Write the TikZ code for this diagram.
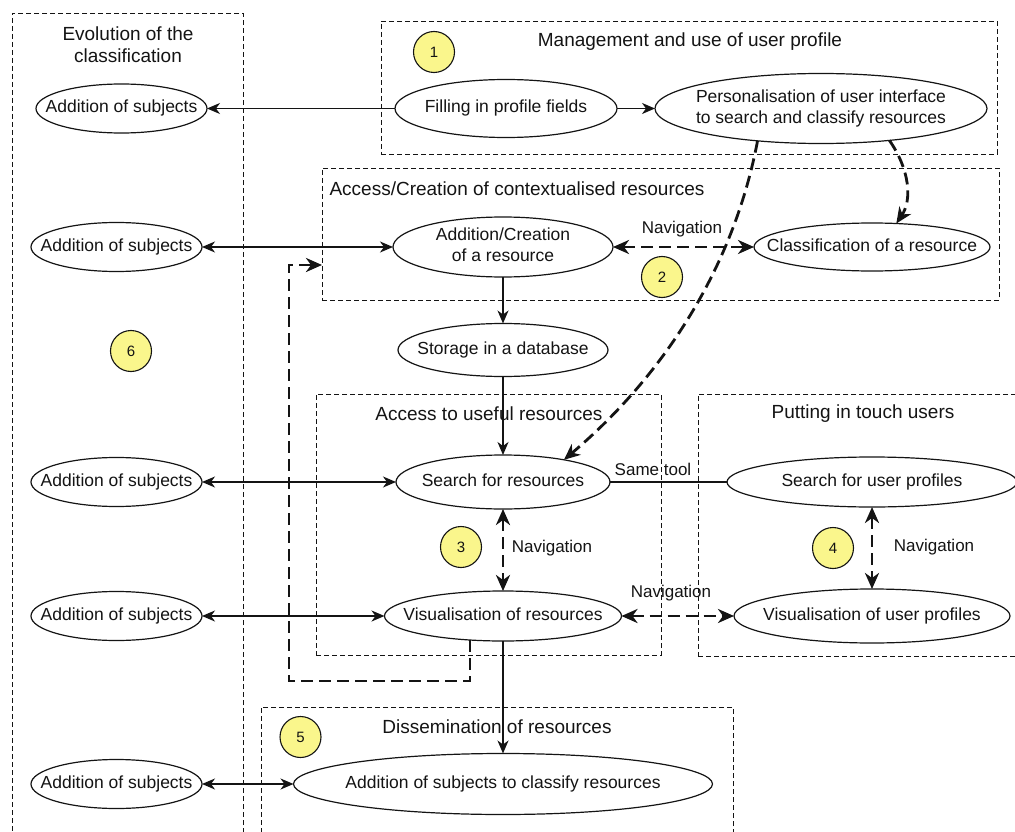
\documentclass[tikz,border=0pt]{standalone}
\usepackage{fontspec}
\setmainfont{Liberation Sans}
\usetikzlibrary{shapes.geometric,arrows.meta}
\newcommand{\zw}[1]{\makebox[0pt]{\strut #1}}
\newcommand{\zwt}[2]{\makebox[0pt]{\begin{tabular}{@{}c@{}}#1\\#2\end{tabular}}}
\definecolor{numfill}{RGB}{250,246,140}
\definecolor{ink}{RGB}{20,20,20}
\begin{document}
\begin{tikzpicture}[x=1pt,y=-1pt,
  ell/.style={ellipse, draw=ink, line width=1.2pt, inner sep=0pt, outer sep=0pt, font=\fontsize{17.5}{21}\selectfont, text=ink},
  grp/.style={rectangle, draw=ink, line width=0.9pt, dash pattern=on 5pt off 3pt, inner sep=0pt},
  ttl/.style={font=\fontsize{19}{22}\selectfont, text=ink, inner sep=0pt, align=center},
  lbl/.style={font=\fontsize{17}{20}\selectfont, text=ink, inner sep=0pt, text height=12pt, text depth=3.5pt},
  num/.style={circle, draw=ink, line width=1.1pt, fill=numfill, minimum size=41pt, inner sep=0pt, text=ink, font=\fontsize{15}{18}\selectfont},
  conn/.style={line width=1.3pt, draw=ink, >={Stealth[length=13pt,width=11pt,inset=4pt]}},
  navd/.style={line width=2.8pt, draw=ink, dash pattern=on 12pt off 6pt, >={Stealth[length=16pt,width=14pt,inset=5pt]}}
]
\useasboundingbox (0,0) rectangle (1015,832);
\fill[white] (0,0) rectangle (1015,832);
\clip (0,0) rectangle (1015,832);

% group boxes
\node[grp, minimum width=231pt, minimum height=837pt] (box6) at (127.5,431.5) {};
\node[grp, minimum width=616pt, minimum height=133pt] (box1) at (689,87.5) {};
\node[grp, minimum width=677pt, minimum height=132pt] (box2) at (660.5,234) {};
\node[grp, minimum width=345pt, minimum height=261pt] (box3) at (488.5,524.5) {};
\node[grp, minimum width=332pt, minimum height=262pt] (box4) at (864,525) {};
\node[grp, minimum width=472pt, minimum height=143pt] (box5) at (497,778.5) {};

% titles
\node[ttl] (t6) at (128,45) {Evolution of the\\classification};
\node[ttl] (t1) at (690,42) {Management and use of user profile};
\node[ttl] (t2) at (517,189) {Access/Creation of contextualised resources};
\node[ttl] (t3) at (489,414) {Access to useful resources};
\node[ttl] (t4) at (863,414) {Putting in touch users};
\node[ttl] (t5) at (497,727) {Dissemination of resources};

% ellipses
\node[ell, minimum width=171pt, minimum height=49pt] (as1) at (121.5,108.5) {\zw{Addition of subjects}};
\node[ell, minimum width=171pt, minimum height=49pt] (as2) at (116.5,247) {\zw{Addition of subjects}};
\node[ell, minimum width=171pt, minimum height=49pt] (as3) at (116.5,482) {\zw{Addition of subjects}};
\node[ell, minimum width=171pt, minimum height=49pt] (as4) at (116.5,616) {\zw{Addition of subjects}};
\node[ell, minimum width=171pt, minimum height=49pt] (as5) at (116.5,784) {\zw{Addition of subjects}};
\node[ell, minimum width=222pt, minimum height=58pt] (fill) at (506,108.5) {\zw{Filling in profile fields}};
\node[ell, minimum width=332pt, minimum height=70pt] (pers) at (821,108.5) {\zwt{Personalisation of user interface}{to search and classify resources}};
\node[ell, minimum width=220pt, minimum height=60pt] (addcr) at (503,247) {\zwt{Addition/Creation}{of a resource}};
\node[ell, minimum width=236pt, minimum height=48pt] (class) at (872,247) {\zw{Classification of a resource}};
\node[ell, minimum width=210pt, minimum height=53pt] (stor) at (503,350) {\zw{Storage in a database}};
\node[ell, minimum width=214pt, minimum height=54pt] (srch) at (503,482) {\zw{Search for resources}};
\node[ell, minimum width=290pt, minimum height=50pt] (srchu) at (872,482) {\zw{Search for user profiles}};
\node[ell, minimum width=237pt, minimum height=50pt] (visr) at (503,616) {\zw{Visualisation of resources}};
\node[ell, minimum width=276pt, minimum height=54pt] (visu) at (872,616) {\zw{Visualisation of user profiles}};
\node[ell, minimum width=419pt, minimum height=61pt] (addcl) at (503,784) {\zw{Addition of subjects to classify resources}};

% numbered circles
\node[num] (c1) at (434,52) {1};
\node[num] (c2) at (662,277) {2};
\node[num] (c3) at (461,547) {3};
\node[num] (c4) at (833,548) {4};
\node[num] (c5) at (300.5,737) {5};
\node[num] (c6) at (131,351) {6};

% labels
\node[lbl] (n1) at (682,229) {Navigation};
\node[lbl] (n2) at (552,548) {Navigation};
\node[lbl] (n3) at (934,547) {Navigation};
\node[lbl] (n4) at (671,593) {Navigation};
\node[lbl] (st) at (653,471) {Same tool};

% solid connectors
\draw[conn,->] (fill) -- (as1);
\draw[conn,->] (fill) -- (pers);
\draw[conn,<->] (as2) -- (addcr);
\draw[conn,<->] (as3) -- (srch);
\draw[conn,<->] (as4) -- (visr);
\draw[conn,<->] (as5) -- (addcl);
\draw[conn,->] (addcr) -- (stor);
\draw[conn,->] (stor) -- (srch);
\draw[conn,->] (visr) -- (addcl);
\draw[conn, line width=2.4pt] (srch) -- (srchu);

% dashed navigation connectors
\draw[navd,<->] (addcr) -- (class);
\draw[navd,<->] (srch) -- (visr);
\draw[navd,<->] (visr) -- (visu);
\draw[navd,<->] (srchu) -- (visu);
\draw[navd,->] (pers.207) .. controls (735,260) and (670,370) .. (srch.20);
\draw[navd,->] (pers.335) .. controls (910,170) and (912,200) .. (class.44);
\coordinate (lp) at (289,681);
\coordinate (lq) at (322,265);
\draw[navd,->] (visr.216) |- (lp) |- (lq);
\end{tikzpicture}
\end{document}
